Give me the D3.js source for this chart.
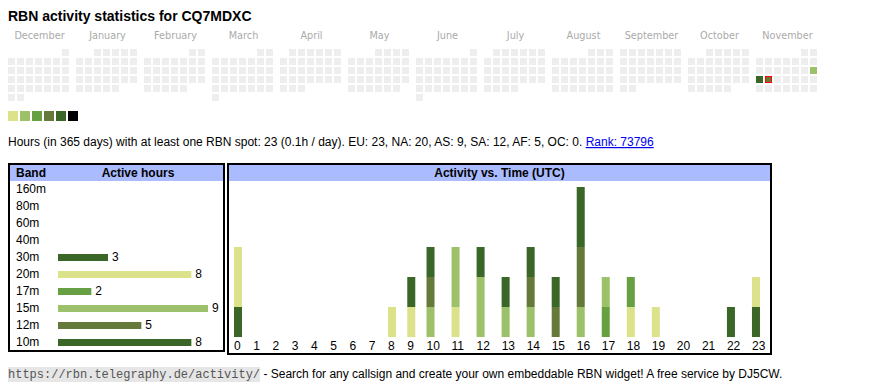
<!DOCTYPE html>
<html><head><meta charset="utf-8">
<script src="https://cdn.jsdelivr.net/npm/d3@7"></script>
<style>body{margin:0;background:#fff}svg{display:block}</style>
</head><body><svg id="c" width="870" height="390"></svg>
<script>
// ---------- data ----------
const titleText = "RBN activity statistics for CQ7MDXC";
const firstMonth = "2024-12-01";
const monthCount = 12;
const heatDates = ["2025-11-16", "2025-11-17", "2025-11-18"];
const heatLevels = [2, 5, 4];           // 1..6 -> legend colour index
const todayDate = "2025-11-18";
const levelColors = ["#dbe28a", "#9dc06a", "#66a043", "#657a3a", "#3a6627", "#000000"];

const statsText = "Hours (in 365 days) with at least one RBN spot: 23 (0.1h / day). EU: 23, NA: 20, AS: 9, SA: 12, AF: 5, OC: 0. ";
const rankText = "Rank: 73796";

const bands = ["160m", "80m", "60m", "40m", "30m", "20m", "17m", "15m", "12m", "10m"];
const bandHours = [0, 0, 0, 0, 3, 8, 2, 9, 5, 8];
const bandColors = ["#dbe28a", "#dbe28a", "#dbe28a", "#dbe28a", "#3a6627", "#dbe28a", "#66a043", "#9dc06a", "#657a3a", "#3a6627"];

const hourLabels = ["0","1","2","3","4","5","6","7","8","9","10","11","12","13","14","15","16","17","18","19","20","21","22","23"];
const act160m = [0,0,0,0,0,0,0,0,0,0,0,0,0,0,0,0,0,0,0,0,0,0,0,0];
const act80m  = [0,0,0,0,0,0,0,0,0,0,0,0,0,0,0,0,0,0,0,0,0,0,0,0];
const act60m  = [0,0,0,0,0,0,0,0,0,0,0,0,0,0,0,0,0,0,0,0,0,0,0,0];
const act40m  = [0,0,0,0,0,0,0,0,0,0,0,0,0,0,0,0,0,0,0,0,0,0,0,0];
const act30m  = [1,0,0,0,0,0,0,0,0,0,0,0,0,0,0,0,0,0,0,0,0,0,1,1];
const act20m  = [2,0,0,0,0,0,0,0,1,1,0,1,0,0,0,0,0,0,1,1,0,0,0,1];
const act17m  = [0,0,0,0,0,0,0,0,0,0,0,0,0,0,0,0,0,1,1,0,0,0,0,0];
const act15m  = [0,0,0,0,0,0,0,0,0,0,1,2,2,1,1,0,1,1,0,0,0,0,0,0];
const act12m  = [0,0,0,0,0,0,0,0,0,0,1,0,0,0,1,1,2,0,0,0,0,0,0,0];
const act10m  = [0,0,0,0,0,0,0,0,0,1,1,0,1,1,1,1,2,0,0,0,0,0,0,0];

const urlText = "https://rbn.telegraphy.de/activity/";
const footerText = " - Search for any callsign and create your own embeddable RBN widget! A free service by DJ5CW.";

// ---------- drawing ----------
const svg = d3.select("#c");
const SANS = "'Liberation Sans', Arial, sans-serif";

svg.append("text").attr("x", 8).attr("y", 21).text(titleText)
  .attr("font-family", SANS).attr("font-weight", "bold").attr("font-size", 14).attr("fill", "#000");

// calendar
const parse = d3.timeParse("%Y-%m-%d");
const fmt = d3.timeFormat("%Y-%m-%d");
const start = parse(firstMonth);
const months = d3.timeMonth.range(start, d3.timeMonth.offset(start, monthCount));
const heatMap = new Map(heatDates.map((d, i) => [d, heatLevels[i]]));
const monthX = d3.scaleLinear().domain([0, 1]).range([8, 76]);
const dayX = d3.scaleLinear().domain([0, 1]).range([0, 9]);
const weekY = d3.scaleLinear().domain([0, 1]).range([49, 58]);
const cal = svg.append("g");
months.forEach((m, i) => {
  const x0 = monthX(i);
  cal.append("text").attr("x", x0 + 31.5).attr("y", 39).attr("text-anchor", "middle")
    .attr("font-family", "'DejaVu Sans', Verdana, sans-serif").attr("font-size", 9.7).attr("fill", "#aaa")
    .text(d3.timeFormat("%B")(m));
  const offset = (m.getDay() + 6) % 7;
  const days = d3.timeDay.range(m, d3.timeMonth.offset(m, 1));
  cal.selectAll(null).data(days).enter().append("rect")
    .attr("x", d => x0 + dayX((d.getDay() + 6) % 7))
    .attr("y", d => weekY(Math.floor((d.getDate() - 1 + offset) / 7)))
    .attr("width", 7).attr("height", 7)
    .attr("fill", d => heatMap.has(fmt(d)) ? levelColors[heatMap.get(fmt(d)) - 1] : "#eeeeee")
    .attr("stroke", d => fmt(d) === todayDate ? "#ff0000" : "none")
    .attr("stroke-width", 1);
});
// keep today's red stroke inside the cell
cal.selectAll("rect").filter(d => fmt(d) === todayDate)
  .attr("x", function(){ return +this.getAttribute("x") + 0.5; })
  .attr("y", function(){ return +this.getAttribute("y") + 0.5; })
  .attr("width", 6).attr("height", 6);

// legend
const legX = d3.scaleLinear().domain([0, 1]).range([8, 20]);
svg.selectAll(".leg").data(levelColors).enter().append("rect")
  .attr("x", (d, i) => legX(i)).attr("y", 111).attr("width", 10).attr("height", 10).attr("fill", d => d);

// stats line
const st = svg.append("text").attr("x", 8).attr("y", 146).attr("font-family", SANS).attr("font-size", 12).attr("fill", "#000");
st.append("tspan").text(statsText);
st.append("tspan").text(rankText).attr("fill", "#0000ee").attr("text-decoration", "underline");

// ---- band table ----
const bt = svg.append("g");
bt.append("rect").attr("x", 10).attr("y", 165).attr("width", 213).attr("height", 16).attr("fill", "#aabbff");
bt.append("rect").attr("x", 9).attr("y", 164).attr("width", 215).attr("height", 187)
  .attr("fill", "none").attr("stroke", "#000").attr("stroke-width", 2);
bt.append("text").attr("x", 16).attr("y", 177).text("Band")
  .attr("font-family", SANS).attr("font-weight", "bold").attr("font-size", 12);
bt.append("text").attr("x", 138).attr("y", 177).attr("text-anchor", "middle").text("Active hours")
  .attr("font-family", SANS).attr("font-weight", "bold").attr("font-size", 12);
const rowY = d3.scaleLinear().domain([0, 1]).range([193, 210]);
const xBand = d3.scaleLinear().domain([0, d3.max(bandHours)]).range([58, 208]);
bands.forEach((b, i) => {
  const y = rowY(i);
  bt.append("text").attr("x", 16).attr("y", y).text(b).attr("font-family", SANS).attr("font-size", 12);
  if (bandHours[i] > 0) {
    bt.append("rect").attr("x", xBand(0)).attr("y", y - 7).attr("width", xBand(bandHours[i]) - xBand(0)).attr("height", 7)
      .attr("fill", bandColors[i]);
    bt.append("text").attr("x", xBand(bandHours[i]) + 4).attr("y", y).text(bandHours[i])
      .attr("font-family", SANS).attr("font-size", 12);
  }
});

// ---- activity chart ----
const ac = svg.append("g");
ac.append("rect").attr("x", 229).attr("y", 165).attr("width", 541).attr("height", 16).attr("fill", "#aabbff");
ac.append("rect").attr("x", 228).attr("y", 164).attr("width", 543).attr("height", 190)
  .attr("fill", "none").attr("stroke", "#000").attr("stroke-width", 2);
ac.append("text").attr("x", 499.5).attr("y", 177).attr("text-anchor", "middle").text("Activity vs. Time (UTC)")
  .attr("font-family", SANS).attr("font-weight", "bold").attr("font-size", 12);

const series = [act160m, act80m, act60m, act40m, act30m, act20m, act17m, act15m, act12m, act10m];
const table = hourLabels.map((h, j) => {
  const o = { hour: h };
  bands.forEach((b, i) => o[b] = series[i][j]);
  return o;
});
const stacked = d3.stack().keys(bands)(table);
const maxTotal = d3.max(table, r => d3.sum(bands, b => r[b]));

// column widths follow label width (auto-sized table columns)
const colPad = 2.33;
const colW = hourLabels.map(l => l.length + colPad);
const cum = d3.cumsum([0, ...colW]);
const wScale = d3.scaleLinear().domain([0, d3.sum(colW)]).range([234, 777]);
const xHour = d3.scaleOrdinal().domain(hourLabels).range(hourLabels.map((l, i) => wScale(cum[i])));
const yAct = d3.scaleLinear().domain([0, maxTotal]).range([337, 187]);

stacked.forEach((s, i) => {
  ac.selectAll(null).data(s.filter(d => d[1] > d[0])).enter().append("rect")
    .attr("x", d => xHour(d.data.hour)).attr("width", 8)
    .attr("y", d => yAct(d[1])).attr("height", d => yAct(d[0]) - yAct(d[1]))
    .attr("fill", bandColors[i]);
});
ac.selectAll(".hl").data(hourLabels).enter().append("text")
  .attr("x", d => xHour(d)).attr("y", 350).text(d => d)
  .attr("font-family", SANS).attr("font-size", 12).attr("fill", "#000");

// ---- footer ----
const ft = svg.append("g");
const urlT = ft.append("text").attr("x", 8).attr("y", 378).text(urlText)
  .attr("font-family", "'Liberation Mono', 'Courier New', monospace").attr("font-size", 12).attr("fill", "#555");
const ub = urlT.node().getBBox();
ft.insert("rect", "text").attr("x", ub.x).attr("y", 367).attr("width", ub.width).attr("height", 15).attr("fill", "#e6e6e6");
ft.append("text").attr("x", ub.x + ub.width).attr("y", 378).text(footerText)
  .attr("font-family", SANS).attr("font-size", 12).attr("fill", "#000")
  .style("white-space", "pre");
</script></body></html>
